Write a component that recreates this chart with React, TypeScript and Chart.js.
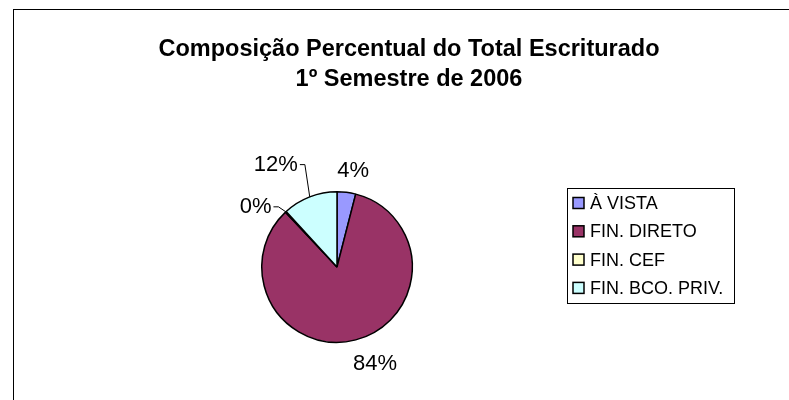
import React, { useEffect, useRef } from "react";
import { Chart, registerables } from "chart.js";

Chart.register(...registerables);

// ---- data ----
const categories = ["À VISTA", "FIN. DIRETO", "FIN. CEF", "FIN. BCO. PRIV."];
const shares = [4.0, 84.0, 0.2, 11.8];
const valueLabels = ["4%", "84%", "0%", "12%"];
const titleLines = ["Composição Percentual do Total Escriturado", "1º Semestre de 2006"];

// ---- styles ----
const sliceColors = ["#9999FF", "#993366", "#FFFFCC", "#CCFFFF"];
const FONT = "'Liberation Sans', Arial, Helvetica, sans-serif";
// label placement relative to its slice: extra radius (px) and angle shift (deg)
const labelPlacement = [
  { dist: 22, shift: 2.3, leader: false },
  { dist: 29, shift: -7, leader: false },
  { dist: 26, shift: -10.7, leader: true },
  { dist: 44, shift: -9.6, leader: true },
];
const layoutCfg = {
  frameX: 13.5,
  frameY: 9.5,
  titleX: 409,
  titleBaselines: [56, 86],
  legendLeft: 567,
  legendTop: 188,
  legendWidth: 167,
  legendHeight: 115,
  legendFirstRow: 203,
  legendRowStep: 28.3,
  swatchX: 573,
  swatchSize: 11,
  legendTextX: 590,
};

const decorPlugin = {
  id: "decor",
  beforeDraw(chart: any) {
    const ctx = chart.ctx;
    ctx.save();
    ctx.fillStyle = "#ffffff";
    ctx.fillRect(0, 0, chart.width, chart.height);
    ctx.strokeStyle = "#000000";
    ctx.lineWidth = 1;
    ctx.strokeRect(layoutCfg.frameX, layoutCfg.frameY, chart.width + 50, chart.height + 50);
    ctx.restore();
  },
  afterDraw(chart: any) {
    const ctx = chart.ctx;
    ctx.save();
    // title
    ctx.fillStyle = "#000000";
    ctx.textAlign = "center";
    ctx.textBaseline = "alphabetic";
    ctx.font = `bold 23.5px ${FONT}`;
    titleLines.forEach((t, i) => ctx.fillText(t, layoutCfg.titleX, layoutCfg.titleBaselines[i]));

    // legend
    ctx.lineWidth = 1;
    ctx.strokeStyle = "#000000";
    ctx.strokeRect(layoutCfg.legendLeft + 0.5, layoutCfg.legendTop + 0.5, layoutCfg.legendWidth, layoutCfg.legendHeight);
    ctx.font = `18px ${FONT}`;
    ctx.textAlign = "left";
    ctx.textBaseline = "middle";
    const labels = chart.data.labels as string[];
    const colors = chart.data.datasets[0].backgroundColor as string[];
    labels.forEach((lab, i) => {
      const cy = layoutCfg.legendFirstRow + i * layoutCfg.legendRowStep;
      const s = layoutCfg.swatchSize;
      ctx.fillStyle = colors[i];
      ctx.fillRect(layoutCfg.swatchX, cy - s / 2, s, s);
      ctx.lineWidth = 1.5;
      ctx.strokeStyle = "#000000";
      ctx.strokeRect(layoutCfg.swatchX, cy - s / 2, s, s);
      ctx.fillStyle = "#000000";
      ctx.fillText(lab, layoutCfg.legendTextX, cy + 1);
    });

    // data labels
    const meta = chart.getDatasetMeta(0);
    ctx.font = `22px ${FONT}`;
    ctx.textAlign = "center";
    ctx.textBaseline = "middle";
    meta.data.forEach((arc: any, i: number) => {
      const p = arc.getProps(["x", "y", "startAngle", "endAngle", "outerRadius"], true);
      const mid = (p.startAngle + p.endAngle) / 2;
      const pl = labelPlacement[i];
      const a = mid + (pl.shift * Math.PI) / 180;
      const r = p.outerRadius + pl.dist;
      const lx = p.x + Math.cos(a) * r;
      const ly = p.y + Math.sin(a) * r;
      const text = valueLabels[i];
      ctx.fillStyle = "#000000";
      ctx.fillText(text, lx, ly);
      if (pl.leader) {
        const w = ctx.measureText(text).width;
        const ex = p.x + Math.cos(mid) * p.outerRadius;
        const ey = p.y + Math.sin(mid) * p.outerRadius;
        const side = lx < p.x ? lx + w / 2 + 2 : lx - w / 2 - 2;
        const elbow = lx < p.x ? side + 5 : side - 5;
        ctx.beginPath();
        ctx.lineWidth = 1;
        ctx.strokeStyle = "#000000";
        ctx.moveTo(ex, ey);
        ctx.lineTo(elbow, ly);
        ctx.lineTo(side, ly);
        ctx.stroke();
      }
    });
    ctx.restore();
  },
};

export default function App() {
  const canvasRef = useRef<HTMLCanvasElement | null>(null);

  useEffect(() => {
    const canvas = canvasRef.current;
    if (!canvas) return;
    const chart = new Chart(canvas, {
      type: "pie",
      data: {
        labels: categories,
        datasets: [
          {
            data: shares,
            backgroundColor: sliceColors,
            borderColor: "#000000",
            borderWidth: 1.5,
          },
        ],
      },
      options: {
        responsive: false,
        animation: false,
        devicePixelRatio: 1,
        layout: { padding: { left: 261, right: 376, top: 191, bottom: 57 } },
        plugins: {
          legend: { display: false },
          title: { display: false },
          tooltip: { enabled: false },
        },
      },
      plugins: [decorPlugin],
    });
    return () => chart.destroy();
  }, []);

  return (
    <div style={{ position: "absolute", left: 0, top: 0, width: 789, height: 400, background: "#fff" }}>
      <canvas ref={canvasRef} width={789} height={400} style={{ width: 789, height: 400, display: "block" }} />
    </div>
  );
}
